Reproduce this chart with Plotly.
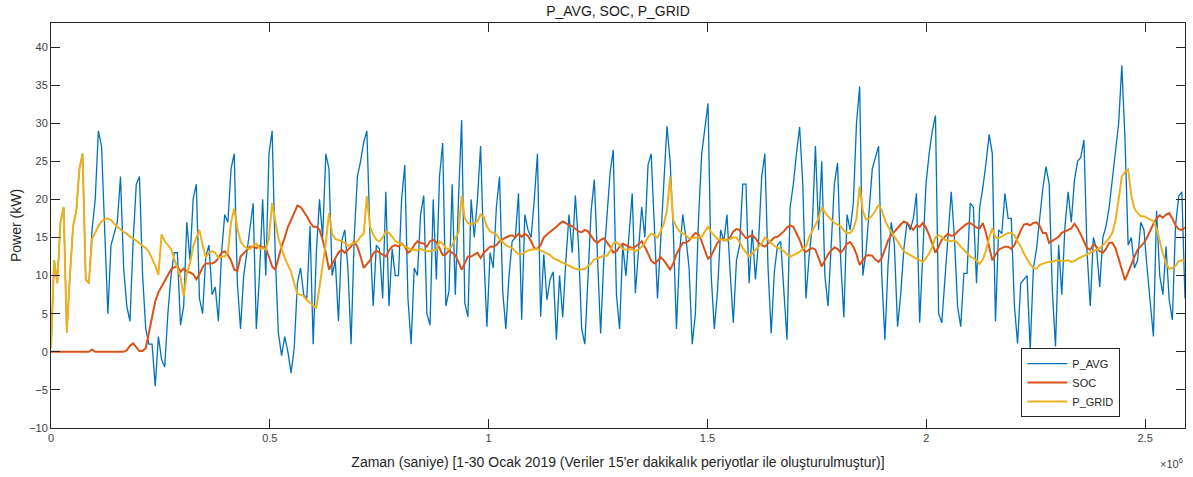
import numpy as np
import plotly.graph_objects as go

# 2-hour samples over 1-30 Jan 2019 (one row = one day, 12 samples)
p_avg = [
    0.5, 12, 9, 17, 19, 2.5, 10, 16.5, 18.5, 24, 26, 9.5,
    9, 16, 20, 29, 27, 17, 5, 14, 15.5, 17, 23, 11,
    6, 4, 14.5, 22, 23, 10, 3, 1, 1, -4.5, 2, -1,
    -2, 5, 10, 13, 13, 3.5, 6, 17, 12, 20, 22, 7,
    5, 12.5, 14, 7.5, 8.5, 4, 13, 18, 17, 24, 26, 9,
    3, 10, 13, 16.5, 19.5, 3, 10, 20, 10, 26, 29, 12.5,
    2.4, -0.5, 2, 0, -2.8, 0.5, 9, 11, 7.5, 7, 16.5, 1,
    13, 20, 15, 26, 24, 10, 12, 4, 14.5, 16, 11, 1,
    15, 23, 25, 27.5, 29, 15, 6, 14, 13.5, 7, 21, 6,
    13.5, 10, 10, 20, 24.5, 7, 1, 11, 10, 18, 20.5, 5,
    3.5, 20, 9.5, 23, 27.4, 6, 8, 22, 7.5, 20, 30.4, 6.4,
    4.6, 20, 15, 20, 27, 13, 3.3, 13, 11, 19, 23, 8,
    3, 10, 14.5, 15, 20.8, 4.2, 18, 16, 15, 20, 26, 4.6,
    12.8, 6.8, 9.5, 10.5, 1.6, 10, 4.5, 12, 18, 13, 20.5, 14,
    3, 1, 9, 18.5, 22.6, 12.5, 2.4, 12, 17.7, 23.5, 26.5, 7.5,
    3, 14, 10, 15, 20.8, 7.7, 13, 19, 15, 24.5, 26, 16,
    7, 14.5, 23, 29.6, 25, 16, 3, 13, 18, 15, 11, 1,
    5, 17.5, 26, 29, 32.6, 10, 3, 8, 16, 14.5, 18, 10.5,
    3.8, 12, 14, 22, 22, 9, 16, 9.5, 14.5, 23, 26, 11,
    2.4, 10.5, 14, 14.5, 7.7, 1.6, 19, 22, 26, 29.5, 22, 7,
    12.5, 16.5, 27, 16, 25, 10, 6, 15, 22, 24.8, 12, 4.5,
    18, 16, 19.5, 30, 34.8, 10, 13, 18.5, 24, 25.5, 27, 10,
    1.6, 11.5, 17, 14, 3.3, 7.5, 13.5, 17, 16, 17.5, 20.8, 3.8,
    13, 22, 26, 29, 31, 5, 3.8, 10, 16, 21, 15, 6,
    3.3, 10.3, 10.3, 19.5, 19, 9, 19, 21.5, 24.8, 28.5, 26, 4,
    16, 15.5, 20.8, 17.5, 17.5, 6, 1.1, 9, 9.5, 10, 0.3, 11,
    13.5, 18, 21.5, 24.3, 22, 8, 0.7, 14, 7.5, 16.5, 21, 17,
    22.5, 25, 25.5, 27.8, 13, 6, 15, 13.5, 8.5, 15, 16.5, 19,
    22.5, 26, 30, 37.6, 28, 14, 15, 11, 12, 17, 16, 11,
    6.8, 2, 18.5, 10, 7.5, 13.8, 6.8, 4.2, 16.5, 20.4, 21, 7,
]

soc = [
    0, 0, 0, 0, 0, 0, 0, 0, 0, 0, 0, 0,
    0, 0.3, 0, 0, 0, 0, 0, 0, 0, 0, 0, 0,
    0.2, 0.8, 1.1, 0.6, 0.1, 0.1, 0.5, 2.5, 4.5, 6.6, 7.8, 8.6,
    9.3, 10.1, 10.8, 11.1, 11.2, 10.5, 10.9, 10.5, 10.4, 10.2, 9.5, 10.2,
    11.1, 11.6, 11.6, 11.6, 11.8, 12.3, 13, 13.2, 12.7, 12, 10.8, 10.6,
    12.5, 12.9, 13.3, 13.8, 13.8, 13.6, 13.9, 13.8, 13.6, 12.5, 11.2, 10.8,
    12.5, 13.8, 15, 16.4, 17.3, 18.2, 19.2, 19.0, 18.4, 17.8, 17, 16.4,
    16.4, 16, 14.7, 13, 10.8, 11.6, 12.3, 13, 13.4, 13, 13.4, 13.8,
    14.5, 13.8, 12.5, 11, 11.5, 12, 12.9, 13.3, 13, 12.7, 12.5, 13.3,
    13.8, 14, 13.8, 14.2, 13.8, 13, 13.3, 14, 14.5, 14.3, 14.2, 13.8,
    14.5, 14.7, 14.4, 13.6, 12.7, 12.8, 13.3, 13, 12.7, 11.8, 10.8, 11.6,
    12.5, 12.5, 12.7, 13, 12.3, 13, 13.4, 13.8, 13.8, 14, 14.5, 14.8,
    15, 15.2, 15.3, 15, 15.5, 15.1, 15.5, 15.2, 14.5, 13.6, 13.5, 14,
    15, 15.4, 15.7, 16.1, 16.4, 16.8, 17.1, 16.9, 16.6, 16.5, 16.2, 15.8,
    15.7, 16, 15.8, 15.2, 14.6, 14.3, 14.7, 14.9, 14.4, 13.8, 13, 13.2,
    13.8, 14.2, 14, 13.8, 13.6, 13.8, 14.2, 14.5, 13.8, 13, 12, 11.6,
    11.9, 12.4, 12, 11.4, 10.8, 11.6, 12.8, 13.6, 14.3, 14.3, 14.6, 15.1,
    15.6, 15.4, 14.5, 13.3, 12.2, 12.6, 13.4, 14.3, 14.8, 14.8, 14.6, 15,
    15.8, 16.1, 16, 15.4, 14.9, 15.1, 15.3, 14.9, 14.3, 14, 13.8, 14.2,
    14.6, 15, 15.1, 15.4, 15.8, 16.3, 16.6, 16.4, 15.5, 14.7, 13.5, 13.1,
    13.4, 13.6, 13.4, 12.3, 11.2, 12, 12.8, 13.3, 13.7, 13.5, 13, 13.5,
    14.2, 14.4, 13.8, 12.8, 11.4, 12, 12.6, 12.7, 12.6, 12.1, 11.8, 12.3,
    13.6, 14.6, 15.3, 15.8, 16.2, 16.7, 17.1, 16.9, 16.5, 16, 16.6, 16.4,
    16.9, 16.3, 15.3, 14, 13, 13.8, 14.7, 15.1, 15.5, 15.2, 15.3, 15.8,
    16.2, 16.5, 16.8, 16.9, 16.6, 16.3, 16.2, 16.9, 15.6, 13.9, 12, 12.7,
    13.4, 13.6, 13.8, 13.8, 13.5, 14, 15, 15.9, 16.7, 16.8, 16.6, 16.9,
    17, 16.5, 15.6, 15.6, 14.3, 14.6, 14.9, 15.1, 15.6, 15.8, 16, 16.2,
    16.8, 16.2, 15.4, 14.6, 13.6, 13.4, 14.1, 13.8, 13.2, 13, 13.5, 14.3,
    14.3, 13.6, 12.1, 10.8, 9.4, 10.4, 11.6, 12.5, 13.4, 13.8, 14.3, 15,
    16, 16.8, 17.5, 17.9, 17.6, 18, 18.2, 17.5, 16.6, 16.1, 16, 16.3,
]

p_grid = [
    0.5, 12, 9, 17, 19, 2.5, 10, 16.5, 18.5, 24, 26, 9.5,
    9, 14.8, 15.6, 16.5, 17.1, 17.4, 17.5, 17.3, 16.8, 16.4, 16, 15.7,
    15.5, 15.1, 14.9, 14.6, 14.3, 14, 13.6, 13.1, 12.2, 11.3, 10.1, 15.4,
    14.5, 14, 13.5, 12.2, 11, 9.8, 7.3, 10.3, 11.6, 13.8, 15, 16,
    14, 12.4, 13, 13.2, 13, 12.3, 12.5, 12.5, 13, 17, 18.8, 16.2,
    14.5, 13.9, 13.6, 13.5, 13.9, 14.2, 13.6, 13.6, 13.4, 14.9, 19.5, 17.1,
    14.9, 13.6, 12.3, 11.4, 10.5, 9, 7.6, 7.5, 7.3, 6.8, 6.4, 6,
    5.7, 8.5, 11.5, 14.3, 18.2, 15.5, 14.8, 14.7, 14.5, 14.3, 13.9, 14.1,
    14.3, 14.5, 15.1, 15.5, 20.4, 16.4, 15.4, 14.7, 14.5, 15, 15.8, 15.6,
    15.1, 14.5, 14.3, 14.1, 13.8, 13.6, 13.4, 13.4, 13.3, 13.5, 13.3, 13.2,
    13.2, 13.4, 13.4, 14.5, 14.2, 13.6, 13.4, 14, 14.9, 15.6, 20.5, 17.5,
    16.9, 16.7, 16.9, 17.1, 18, 17.7, 16.4, 15.8, 15.6, 15.4, 14.8, 14.4,
    14, 13.8, 13.6, 13.2, 12.8, 12.8, 13.1, 13.3, 13.4, 13.5, 13.5, 13.3,
    13.1, 12.9, 12.7, 12.3, 12.1, 11.9, 11.6, 11.4, 11.2, 11, 10.9, 10.8,
    10.8, 10.9, 11.2, 11.6, 12.1, 12.3, 12.5, 12.6, 12.6, 13.2, 14.2, 14.4,
    14, 13.5, 13.4, 13.5, 13.5, 13.2, 13.4, 13.8, 14.3, 15, 15.5, 15.3,
    15, 15.8, 16.8, 18.5, 23, 17.3, 16.4, 15.8, 15.6, 15.3, 14.9, 14.9,
    15, 15.1, 15.1, 15.8, 16.4, 15.7, 15.2, 14.8, 14.7, 14.7, 14.6, 14.8,
    15, 15, 14.4, 13.6, 13, 12.5, 12.9, 13.4, 13.8, 14.2, 15, 14.7,
    14.3, 13.9, 13.7, 13.5, 13.2, 12.8, 12.5, 12.7, 12.9, 13.1, 13.5, 13.8,
    15, 15.9, 16.8, 17.5, 19, 18.3, 17.8, 17.3, 16.9, 16.7, 16.5, 15.9,
    15.6, 15.6, 16.1, 17.5, 21.7, 18.5, 17.4, 17.5, 17.9, 18.5, 19.3, 18.6,
    17.3, 16.4, 15.7, 15.1, 14.5, 13.8, 13.2, 12.9, 12.7, 12.5, 12.2, 12,
    11.8, 12.3, 12.9, 13.8, 15, 15.3, 15.1, 14.7, 14.6, 14.5, 14.6, 14.3,
    13.8, 13.4, 13, 12.5, 12.3, 12, 11.5, 12.1, 13.3, 15, 16.2, 15,
    14.9, 15.1, 15.3, 15.6, 15.6, 15.3, 14.5, 13.8, 12.9, 12.2, 11.5, 11,
    10.9, 11.4, 11.6, 11.7, 11.8, 11.8, 12, 12, 11.9, 12, 12, 11.8,
    11.9, 12.2, 12.4, 12.6, 12.9, 13.1, 13.3, 13.4, 13.6, 14, 14.5, 14.9,
    15.6, 17.3, 20, 23, 23.6, 23.9, 20.5, 18.8, 18.2, 17.8, 17.8, 17.6,
    17.3, 17.1, 16.2, 14.4, 12.9, 11.6, 10.9, 11, 11.3, 11.9, 12, 11.9,
]

t_end = 2591100  # seconds (last 15-min sample of 30 days)
x_tick_vals = [0, 0.5e6, 1e6, 1.5e6, 2e6, 2.5e6]
x_tick_text = ["0", "0.5", "1", "1.5", "2", "2.5"]
y_tick_vals = [-10, -5, 0, 5, 10, 15, 20, 25, 30, 35, 40]


def times(n):
    return np.linspace(0, t_end, n)


AX = "#262626"
FONT = "Liberation Sans, Arial, Helvetica, sans-serif"

fig = go.Figure()
fig.add_trace(go.Scatter(x=times(len(p_avg)), y=p_avg, mode="lines", name="P_AVG",
                         line=dict(color="#0072BD", width=1.3)))
fig.add_trace(go.Scatter(x=times(len(soc)), y=soc, mode="lines", name="SOC",
                         line=dict(color="#D95319", width=2)))
fig.add_trace(go.Scatter(x=times(len(p_grid)), y=p_grid, mode="lines", name="P_GRID",
                         line=dict(color="#EDB120", width=2)))

axis_common = dict(showline=True, linecolor=AX, linewidth=1, mirror="ticks",
                   ticks="inside", ticklen=9, tickcolor=AX, tickwidth=1,
                   showgrid=False, zeroline=False,
                   tickfont=dict(family=FONT, size=11, color="#404040"))

fig.update_layout(
    width=1193, height=477,
    margin=dict(l=51, r=8, t=23, b=49),
    paper_bgcolor="white", plot_bgcolor="white",
    font=dict(family=FONT, color=AX),
    title=dict(text="P_AVG, SOC, P_GRID", x=0.518, xanchor="center", y=0.977, yanchor="middle",
               font=dict(family=FONT, size=14, color="#1a1a1a")),
    xaxis=dict(range=[0, t_end], tickvals=x_tick_vals, ticktext=x_tick_text,
               title=dict(text="Zaman (saniye) [1-30 Ocak 2019 (Veriler 15'er dakikalık periyotlar ile oluşturulmuştur)]",
                          font=dict(family=FONT, size=14, color="#262626"), standoff=13),
               **axis_common),
    yaxis=dict(range=[-10, 43.15], tickvals=y_tick_vals,
               title=dict(text="Power (kW)", font=dict(family=FONT, size=14, color="#262626"), standoff=4),
               **axis_common),
    legend=dict(x=0.943, y=0.027, xanchor="right", yanchor="bottom",
                bgcolor="white", bordercolor=AX, borderwidth=1,
                font=dict(family=FONT, size=11, color="#262626"),
                tracegroupgap=0, itemwidth=40),
    showlegend=True,
)

fig.add_annotation(text="×10<sup>6</sup>", xref="paper", yref="paper", x=1.0, y=-0.065,
                   xanchor="right", yanchor="top", showarrow=False,
                   font=dict(family=FONT, size=11, color="#404040"))

fig.write_html("out.html")
